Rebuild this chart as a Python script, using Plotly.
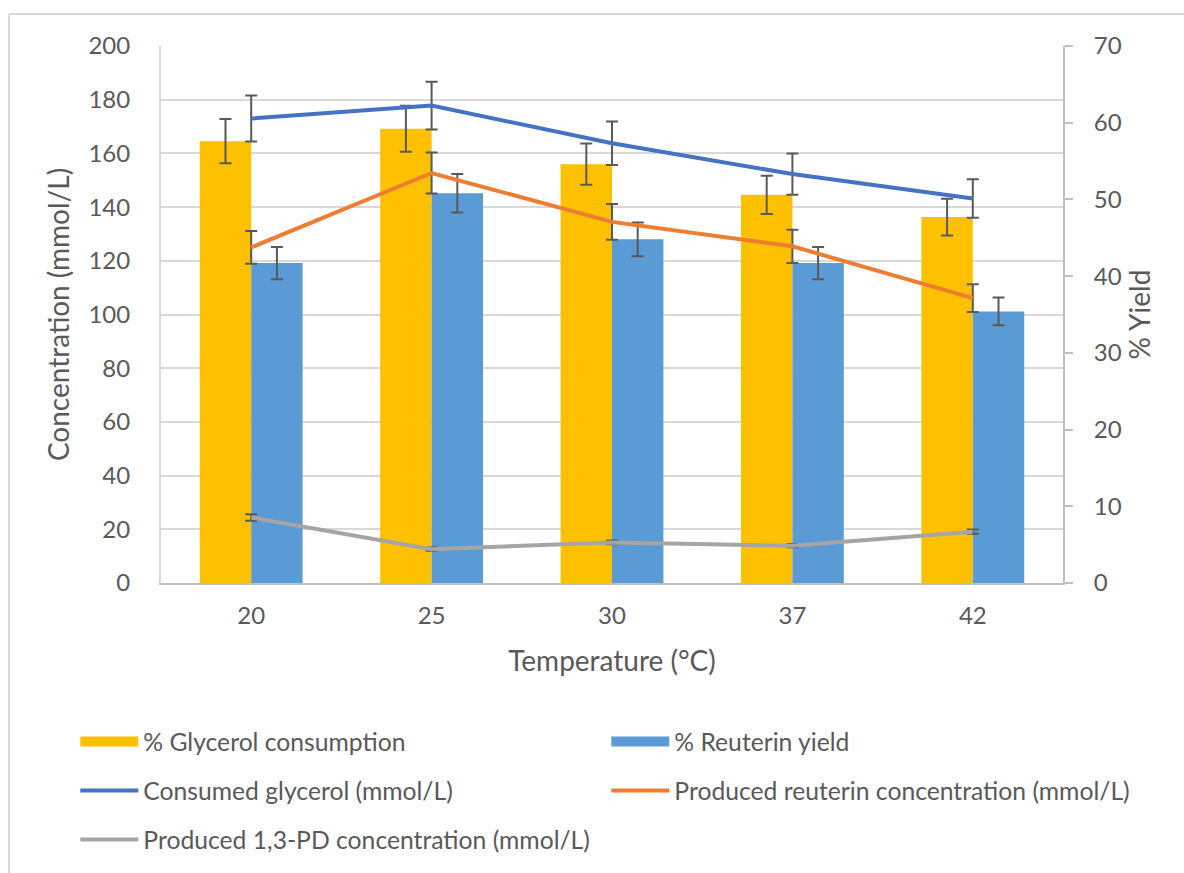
import plotly.graph_objects as go

temps = ["20", "25", "30", "37", "42"]

glycerol_consumption_pct = [57.6, 59.2, 54.6, 50.6, 47.7]
glycerol_consumption_err = [2.9, 3.0, 2.7, 2.5, 2.4]
reuterin_yield_pct = [41.7, 50.8, 44.8, 41.7, 35.4]
reuterin_yield_err = [2.1, 2.5, 2.2, 2.1, 1.8]

consumed_glycerol = [173.0, 177.8, 163.8, 152.3, 143.2]
consumed_glycerol_err = [8.6, 8.9, 8.1, 7.7, 7.2]
produced_reuterin = [125.0, 152.7, 134.5, 125.4, 106.1]
produced_reuterin_err = [6.1, 7.6, 6.7, 6.2, 5.2]
produced_pd = [24.4, 12.6, 15.1, 13.9, 19.1]
produced_pd_err = [1.2, 0.6, 0.7, 0.6, 0.8]

FONT = "Lato"
TXT = "#595959"
ERR = "#595959"
YELLOW = "#FFC000"
LBLUE = "#5B9BD5"

fig = go.Figure()

fig.add_trace(go.Bar(
    x=temps, y=glycerol_consumption_pct, name="% Glycerol consumption",
    marker=dict(color=YELLOW, line=dict(width=0)),
    error_y=dict(type="data", array=glycerol_consumption_err, color=ERR, thickness=2, width=6),
    yaxis="y", showlegend=False,
))
fig.add_trace(go.Bar(
    x=temps, y=reuterin_yield_pct, name="% Reuterin yield",
    marker=dict(color=LBLUE, line=dict(width=0)),
    error_y=dict(type="data", array=reuterin_yield_err, color=ERR, thickness=2, width=6),
    yaxis="y", showlegend=False,
))
# legend-only entries with wide rectangular swatches (like the original)
fig.add_trace(go.Scatter(
    x=[None], y=[None], mode="lines", name="% Glycerol consumption",
    line=dict(color=YELLOW, width=15), yaxis="y", legend="legend",
))
fig.add_trace(go.Scatter(
    x=[None], y=[None], mode="lines", name="% Reuterin yield",
    line=dict(color=LBLUE, width=15), yaxis="y", legend="legend",
))
fig.add_trace(go.Scatter(
    x=temps, y=consumed_glycerol, name="Consumed glycerol (mmol/L)", mode="lines",
    line=dict(color="#4472C4", width=4),
    error_y=dict(type="data", array=consumed_glycerol_err, color=ERR, thickness=2, width=6),
    yaxis="y2", legend="legend2",
))
fig.add_trace(go.Scatter(
    x=temps, y=produced_reuterin, name="Produced reuterin concentration (mmol/L)", mode="lines",
    line=dict(color="#ED7D31", width=4),
    error_y=dict(type="data", array=produced_reuterin_err, color=ERR, thickness=2, width=6),
    yaxis="y2", legend="legend2",
))
fig.add_trace(go.Scatter(
    x=temps, y=produced_pd, name="Produced 1,3-PD concentration (mmol/L)", mode="lines",
    line=dict(color="#A5A5A5", width=4),
    error_y=dict(type="data", array=produced_pd_err, color=ERR, thickness=2, width=6),
    yaxis="y2", legend="legend3",
))

legend_common = dict(
    orientation="h", xanchor="left", yanchor="middle", x=-0.095,
    font=dict(family=FONT, size=24.7, color=TXT), itemwidth=58,
    bgcolor="rgba(0,0,0,0)", entrywidth=458, traceorder="normal",
)

fig.update_layout(
    width=1184, height=873,
    margin=dict(l=161, r=121, t=46, b=289),
    paper_bgcolor="white", plot_bgcolor="white",
    font=dict(family=FONT, color=TXT),
    barmode="group", bargap=0.43, bargroupgap=0,
    xaxis=dict(
        type="category", showline=True, linecolor="#BFBFBF", linewidth=2,
        ticks="", tickfont=dict(size=24, color=TXT), ticklabelstandoff=10,
        title=dict(text="Temperature (°C)", font=dict(size=28, color=TXT), standoff=24),
    ),
    yaxis=dict(
        side="right", range=[0, 70], dtick=10, showgrid=False,
        showline=True, linecolor="#BFBFBF", linewidth=2,
        ticks="outside", ticklen=8, tickcolor="#BFBFBF", tickwidth=2,
        tickfont=dict(size=24, color=TXT), ticklabelstandoff=16,
        title=dict(text="% Yield", font=dict(size=28, color=TXT), standoff=10),
        zeroline=False,
    ),
    yaxis2=dict(
        overlaying="y", side="left", range=[0, 200], dtick=20,
        showgrid=True, gridcolor="#D9D9D9", gridwidth=2,
        showline=True, linecolor="#D9D9D9", linewidth=2,
        ticks="", tickfont=dict(size=24, color=TXT), ticklabelstandoff=24,
        title=dict(text="Concentration (mmol/L)", font=dict(size=28, color=TXT), standoff=11),
        zeroline=False,
    ),
    legend=dict(legend_common, y=-0.2937),
    legend2=dict(legend_common, y=-0.3848),
    legend3=dict(legend_common, y=-0.4758),
    shapes=[
        dict(type="line", xref="paper", yref="paper", x0=(9 - 161) / 902, x1=1.2,
             y0=(584 - 14) / 538, y1=(584 - 14) / 538, line=dict(color="#D9D9D9", width=2)),
        dict(type="line", xref="paper", yref="paper", x0=(9 - 161) / 902, x1=(9 - 161) / 902,
             y0=(584 - 14) / 538, y1=-0.6, line=dict(color="#D9D9D9", width=2)),
    ],
)

fig.write_html("out.html")
